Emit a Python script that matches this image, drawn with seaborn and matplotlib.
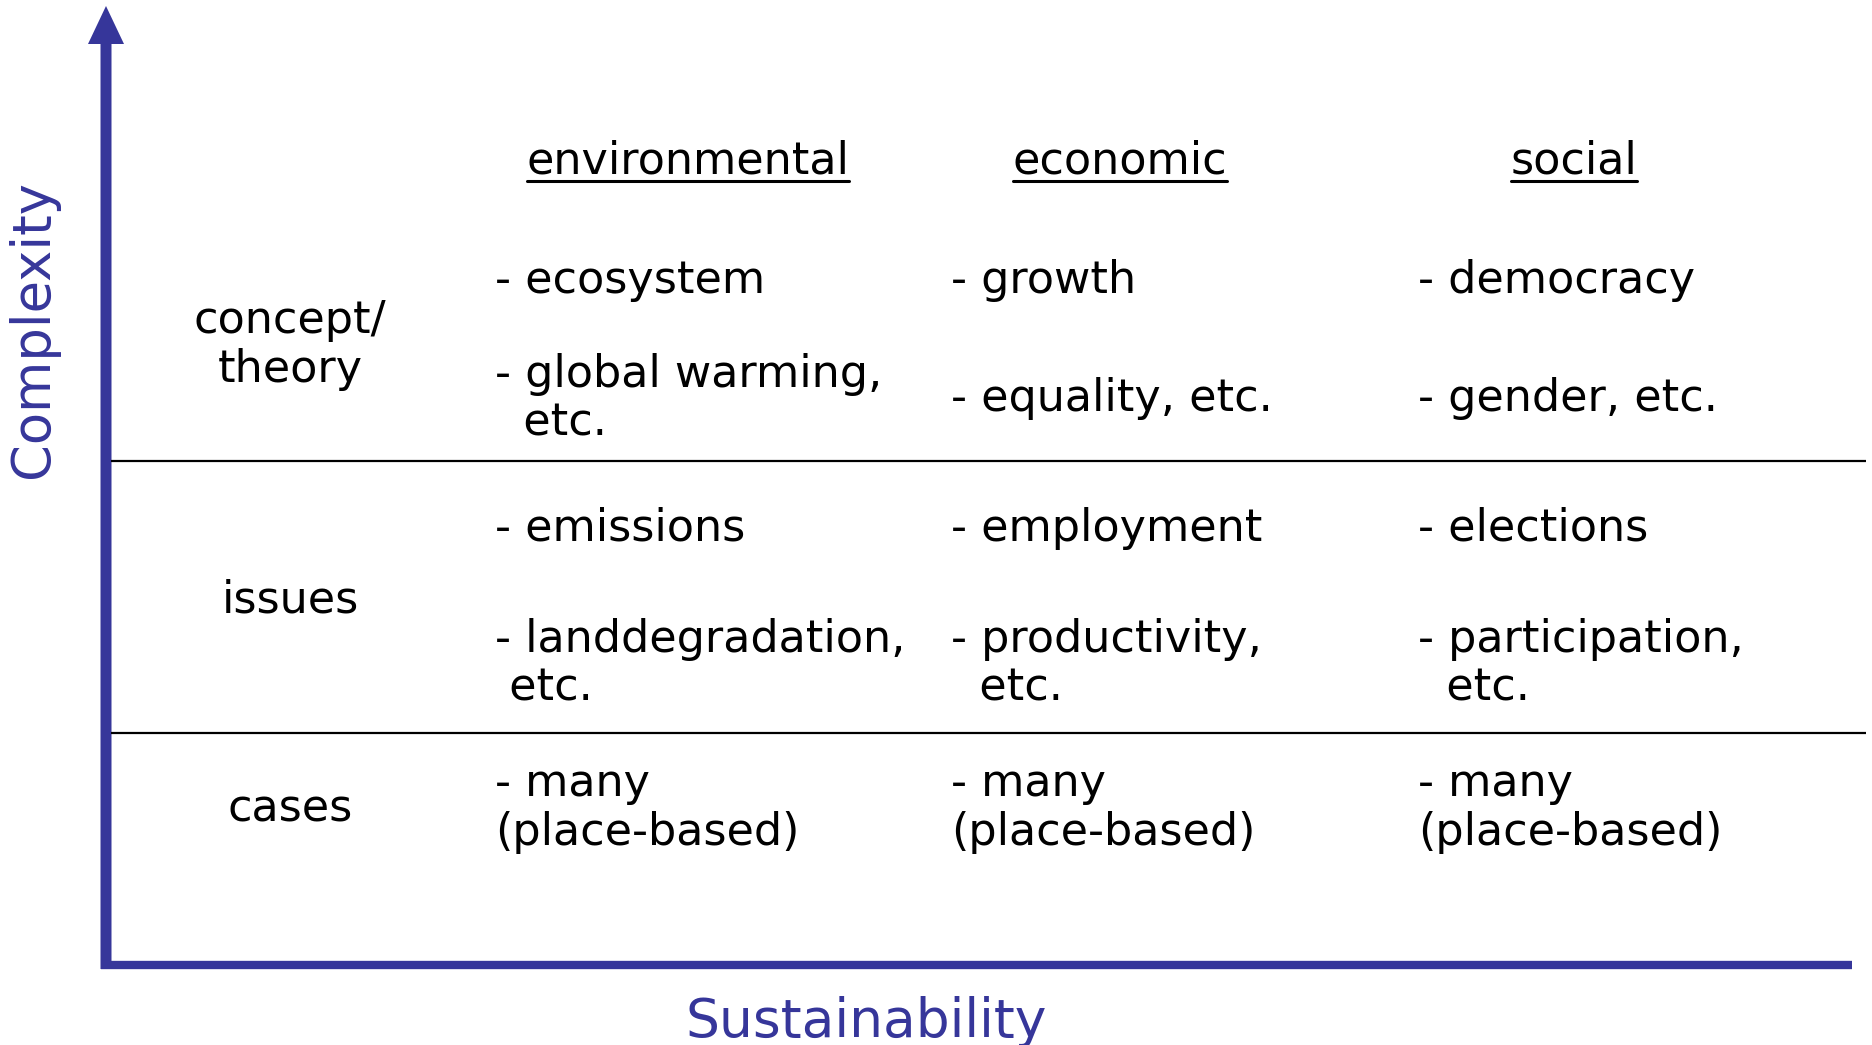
import matplotlib
matplotlib.use("Agg")
import matplotlib.pyplot as plt
import seaborn as sns

# content of the diagram
columns = ["environmental", "economic", "social"]
row_labels = ["concept/\ntheory", "issues", "cases"]
cells = [
    [["- ecosystem", "- global warming,\n  etc."],
     ["- growth", "- equality, etc."],
     ["- democracy", "- gender, etc."]],
    [["- emissions", "- landdegradation,\n etc."],
     ["- employment", "- productivity,\n  etc."],
     ["- elections", "- participation,\n  etc."]],
    [["- many\n(place-based)"],
     ["- many\n(place-based)"],
     ["- many\n(place-based)"]],
]
x_label = "Sustainability"
y_label = "Complexity"

# layout (pixel space of the 1872x1045 canvas)
W, H = 1872, 1045
header_x = [688, 1120, 1574]
header_y = 161
col_x = [495, 951, 1418]
row_label_x = 290
row_label_y = [345, 600, 809]
item_y = [[280, 399], [528, 664], [808]]
separators_y = [461, 733]
axis_x, axis_y = 106, 965
blue = "#36369a"
fs = 32

sns.set_theme(style="white")
plt.rcParams["font.family"] = ["DejaVu Sans"]

fig = plt.figure(figsize=(W / 100, H / 100), dpi=100)
ax = fig.add_axes([0, 0, 1, 1])
ax.set_xlim(0, W)
ax.set_ylim(H, 0)
ax.axis("off")

# axes arrows
ax.arrow(axis_x, axis_y + 4, 0, -(axis_y - 2), width=11, head_width=36,
         head_length=38, length_includes_head=True, color=blue, lw=0)
ax.plot([axis_x - 5, 1852], [axis_y, axis_y], color=blue, lw=6, solid_capstyle="butt")
ax.text(33, 329, y_label, rotation=90, ha="center", va="center",
        fontsize=38, color=blue)
ax.text(866, 1022, x_label, ha="center", va="center", fontsize=38.5, color=blue)

# row separators
ax.hlines(separators_y, 111, 1866, color="black", lw=1.6)

# headers with underline
fig.canvas.draw()
renderer = fig.canvas.get_renderer()
inv = ax.transData.inverted()
for hx, name in zip(header_x, columns):
    t = ax.text(hx, header_y, name, ha="center", va="center", fontsize=fs, color="black")
    bb = t.get_window_extent(renderer)
    (x0, _), (x1, _) = inv.transform([(bb.x0, bb.y0), (bb.x1, bb.y1)])
    ax.plot([x0, x1], [header_y + 20, header_y + 20], color="black", lw=2.2)

# row labels and cells
for r, label in enumerate(row_labels):
    ax.text(row_label_x, row_label_y[r], label, ha="center", va="center",
            fontsize=fs, color="black", linespacing=1.15, multialignment="center")
    for c in range(len(columns)):
        for k, item in enumerate(cells[r][c]):
            ax.text(col_x[c], item_y[r][k], item, ha="left", va="center",
                    fontsize=fs, color="black", linespacing=1.15)

fig.savefig("out.png", dpi=100)
